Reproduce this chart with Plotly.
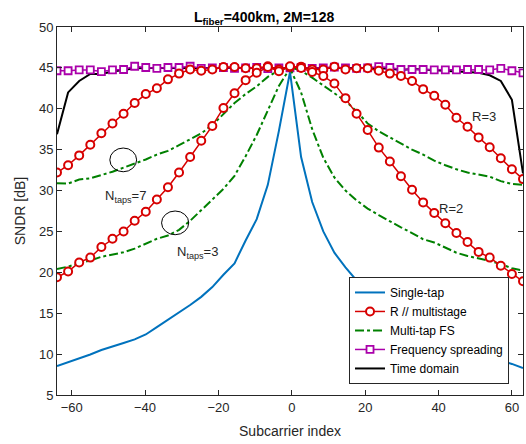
import numpy as np
import plotly.graph_objects as go

# subcarrier grid used for all series (43 samples from -64 to 63)
subcarrier = np.linspace(-64, 63, 43)

single_tap = [8.55, 9.0, 9.45, 9.95, 10.5, 10.9, 11.35, 11.8, 12.4, 13.3, 14.2, 15.0, 16.0, 17.0, 18.2, 19.7,
              21.1, 23.9, 26.5, 30.7, 37.3, 44.5,
              34.1, 28.6, 25.0, 22.4, 20.6, 19.0, 17.9, 16.6, 15.5, 14.6, 13.7, 12.8, 12.0, 11.4, 10.9, 10.4,
              9.9, 9.5, 9.2, 8.8, 8.3]

r3 = [32.2, 33.1, 34.3, 35.6, 37.0, 38.2, 39.4, 40.7, 41.8, 42.5, 43.6, 44.3, 44.8, 44.65, 44.8, 45.1, 45.1,
      44.95, 44.95, 45.2, 44.8, 45.1,
      45.15, 44.8, 44.8, 45.15, 44.8, 44.95, 44.95, 44.65, 44.3, 44.0, 43.4, 42.4, 41.6, 40.5, 38.9, 37.8,
      36.5, 35.3, 33.95, 32.6, 31.4]

r2 = [19.4, 20.1, 21.2, 21.8, 23.1, 24.1, 25.0, 26.3, 27.4, 28.9, 30.4, 32.2, 34.1, 36.1, 37.9, 40.1, 41.9,
      43.5, 44.4, 45.1, 44.6, 45.2,
      45.0, 44.5, 44.0, 43.1, 41.3, 39.4, 37.4, 35.25, 33.55, 31.75, 30.1, 28.55, 27.25, 26.0, 24.8, 23.7,
      22.5, 21.8, 20.8, 19.8, 18.9]

fs7 = [30.9, 30.85, 31.35, 31.5, 31.9, 32.3, 32.8, 33.3, 33.8, 34.4, 34.85, 35.55, 36.25, 37.0, 38.0, 39.3,
       40.7, 41.8, 42.75, 43.9, 44.7, 45.1,
       44.65, 43.8, 42.85, 41.9, 40.95, 39.7, 38.2, 37.25, 36.5, 35.7, 35.0, 34.4, 33.65, 33.1, 32.6, 32.2,
       31.95, 31.7, 31.15, 30.8, 30.7]

fs3 = [20.4, 20.7, 21.1, 21.45, 21.9, 22.2, 22.45, 22.9, 23.5, 24.1, 24.5, 25.2, 26.3, 27.6, 28.9, 30.2,
       31.8, 34.2, 36.8, 39.9, 42.8, 44.95,
       42.0, 37.5, 34.0, 31.6, 30.0, 28.8, 27.8, 27.0, 26.2, 25.5, 24.8, 24.05, 23.65, 23.0, 22.4, 22.0,
       21.7, 21.4, 21.0, 20.5, 20.2]

freq_spread = [44.65, 44.65, 44.75, 44.75, 44.55, 44.75, 44.8, 45.2, 45.05, 44.95, 45.05, 45.05, 45.2, 44.95,
               45.0, 45.05, 44.95, 45.0, 45.05, 44.9, 45.0, 45.0, 45.05, 44.95, 45.0, 45.1, 45.0, 44.95, 45.0,
               45.15, 45.05, 44.8, 44.8, 44.8, 44.75, 44.75, 44.75, 44.8, 44.8, 44.75, 44.95, 44.65, 44.4]

time_domain = [36.9, 42.0, 43.4, 44.25, 44.25, 44.55, 44.75, 44.95,
               45.0, 45.0, 45.0, 45.0, 45.05, 45.05, 45.0, 45.0, 45.0, 45.0, 45.0, 45.0, 45.0, 45.0, 45.0,
               45.0, 45.0, 45.0, 45.0, 45.0, 45.0,
               44.95, 44.9, 44.75, 44.85, 44.8, 44.7, 44.65, 44.55, 44.5, 44.4, 44.1, 43.4, 41.1, 32.1]

x_ticks = [-60, -40, -20, 0, 20, 40, 60]
y_ticks = [5, 10, 15, 20, 25, 30, 35, 40, 45, 50]

BLUE = "#0072BD"
RED = "rgb(215,0,0)"
GREEN = "rgb(0,128,0)"
PURPLE = "rgb(170,0,170)"
AX = "#262626"
FONT = "Liberation Sans, Arial, sans-serif"

fig = go.Figure()

fig.add_trace(go.Scatter(x=subcarrier, y=single_tap, mode="lines", name="Single-tap",
                         line=dict(color=BLUE, width=2), legendrank=1))
fig.add_trace(go.Scatter(x=subcarrier, y=time_domain, mode="lines", name="Time domain",
                         line=dict(color="black", width=2), legendrank=5))
fig.add_trace(go.Scatter(x=subcarrier, y=freq_spread, mode="lines+markers", name="Frequency spreading",
                         line=dict(color=PURPLE, width=1.5),
                         marker=dict(symbol="square", size=7, color="white", line=dict(color=PURPLE, width=1.8)),
                         legendrank=4))
fig.add_trace(go.Scatter(x=subcarrier, y=fs7, mode="lines", name="Multi-tap FS", legendgroup="fs",
                         line=dict(color=GREEN, width=2, dash="dashdot"), legendrank=3))
fig.add_trace(go.Scatter(x=subcarrier, y=fs3, mode="lines", name="Multi-tap FS", legendgroup="fs",
                         showlegend=False, line=dict(color=GREEN, width=2, dash="dashdot")))
fig.add_trace(go.Scatter(x=subcarrier, y=r3, mode="lines+markers", name="R // multistage", legendgroup="r",
                         line=dict(color=RED, width=1.5),
                         marker=dict(symbol="circle", size=8, color="white", line=dict(color=RED, width=2)),
                         legendrank=2))
fig.add_trace(go.Scatter(x=subcarrier, y=r2, mode="lines+markers", name="R // multistage", legendgroup="r",
                         showlegend=False, line=dict(color=RED, width=1.5),
                         marker=dict(symbol="circle", size=8, color="white", line=dict(color=RED, width=2))))

axis_common = dict(showline=True, linecolor=AX, linewidth=1, mirror="ticks", ticks="inside", ticklen=5,
                   tickcolor=AX, showgrid=False, zeroline=False, automargin=False,
                   tickfont=dict(family=FONT, size=13, color=AX))

fig.update_layout(
    width=526, height=444, autosize=False,
    margin=dict(l=57, r=3, t=27, b=49),
    plot_bgcolor="white", paper_bgcolor="white",
    font=dict(family=FONT, size=13, color=AX),
    title=dict(text="<b>L<sub>fiber</sub>=400km, 2M=128</b>", x=0.502, xanchor="center", y=0.962,
               yanchor="middle", font=dict(family=FONT, size=14, color="black")),
    xaxis=dict(range=[-64, 63], tickvals=x_ticks,
               title=dict(text="Subcarrier index", font=dict(family=FONT, size=14, color=AX), standoff=12),
               **axis_common),
    yaxis=dict(range=[5, 50], tickvals=y_ticks,
               title=dict(text="SNDR [dB]", font=dict(family=FONT, size=14, color=AX), standoff=10),
               **axis_common),
    legend=dict(x=0.970, y=0.030, xanchor="right", yanchor="bottom", bgcolor="white",
                bordercolor=AX, borderwidth=1, font=dict(family=FONT, size=12, color="black"),
                tracegroupgap=0, itemwidth=30),
    showlegend=True,
)

fig.add_shape(type="circle", xref="x", yref="y", x0=-49.6, x1=-42.3, y0=32.3, y1=35.2,
              line=dict(color="black", width=1))
fig.add_shape(type="circle", xref="x", yref="y", x0=-35.5, x1=-28.1, y0=24.6, y1=27.5,
              line=dict(color="black", width=1))

ann_font = dict(family=FONT, size=13, color=AX)
fig.add_annotation(x=-45.2, y=29.3, xref="x", yref="y", text="N<sub>taps</sub>=7", showarrow=False,
                   font=ann_font)
fig.add_annotation(x=-25.6, y=22.4, xref="x", yref="y", text="N<sub>taps</sub>=3", showarrow=False,
                   font=ann_font)
fig.add_annotation(x=52.5, y=39.0, xref="x", yref="y", text="R=3", showarrow=False, font=ann_font)
fig.add_annotation(x=43.5, y=27.75, xref="x", yref="y", text="R=2", showarrow=False, font=ann_font)

fig.write_html("out.html", config={"responsive": False, "displayModeBar": False},
               post_script="document.body.style.margin='0';document.body.style.overflow='hidden';")
